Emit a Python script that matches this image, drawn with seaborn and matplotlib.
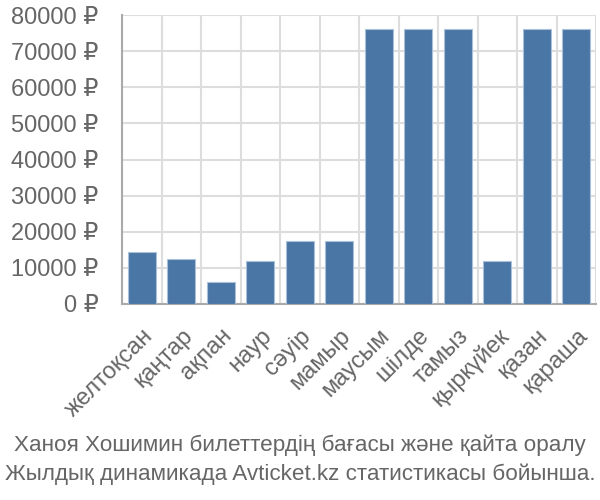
import matplotlib
matplotlib.use("Agg")
import matplotlib.pyplot as plt
import seaborn as sns
import pandas as pd
import numpy as np

months = ["желтоқсан", "қаңтар", "ақпан", "наур", "сәуір", "мамыр",
          "маусым", "шілде", "тамыз", "қыркүйек", "қазан", "қараша"]
prices = [14300, 12400, 6000, 11800, 17400, 17400,
          76000, 76000, 76000, 11800, 76000, 76000]
yticks = [0, 10000, 20000, 30000, 40000, 50000, 60000, 70000, 80000]
caption = ["Ханоя Хошимин билеттердің бағасы және қайта оралу",
           "Жылдық динамикада Avticket.kz статистикасы бойынша."]

sns.set_theme(style="white")
plt.rcParams['font.family'] = ['Liberation Sans', 'DejaVu Sans']

df = pd.DataFrame({"month": months, "price": prices})

fig = plt.figure(figsize=(6, 5), dpi=100)
ax = fig.add_axes([122/600, 1 - 304/500, 474/600, 289/500])

sns.barplot(data=df, x="month", y="price", color="#4a76a6", width=0.72,
            edgecolor="#a9c0da", linewidth=0.8, saturation=1, ax=ax, zorder=3)

grid_c = "#dddddd"
text_c = "#666666"
fs = 17
ax.set_ylim(0, 80000)
ax.set_xlim(-0.5, len(months) - 0.5)
ax.set_yticks(yticks)
ax.set_yticklabels([f"{v} ₽" for v in yticks], fontsize=fs, color=text_c)
ax.set_xticks(range(len(months)))
ax.set_xticklabels(months, rotation=45, ha="right", va="top",
                   rotation_mode="anchor", fontsize=fs, color=text_c)
ax.set_xticks(np.arange(-0.5, len(months), 1), minor=True)
ax.tick_params(axis="x", which="major", length=0, pad=15)
ax.tick_params(axis="x", which="minor", length=16, width=1.5, color=grid_c)
ax.tick_params(axis="y", length=20, width=1.5, color=grid_c, pad=-3)
ax.grid(axis="y", color=grid_c, linewidth=1.5, zorder=0)
ax.grid(axis="x", which="minor", color=grid_c, linewidth=1.5, zorder=0)
ax.set_axisbelow(True)
ax.set_xlabel("")
ax.set_ylabel("")
for s in ["top", "right"]:
    ax.spines[s].set_visible(False)
ax.spines["left"].set_color("#aaaaaa")
ax.spines["left"].set_linewidth(1.5)
ax.spines["bottom"].set_color("#aaaaaa")
ax.spines["bottom"].set_linewidth(1.5)

cfs = 16.2
fig.text(0.5, 1 - 445/500, caption[0], ha="center", va="center",
         fontsize=cfs, color=text_c)
fig.text(0.5, 1 - 474/500, caption[1], ha="center", va="center",
         fontsize=cfs, color=text_c)

fig.savefig("out.png", dpi=100)
